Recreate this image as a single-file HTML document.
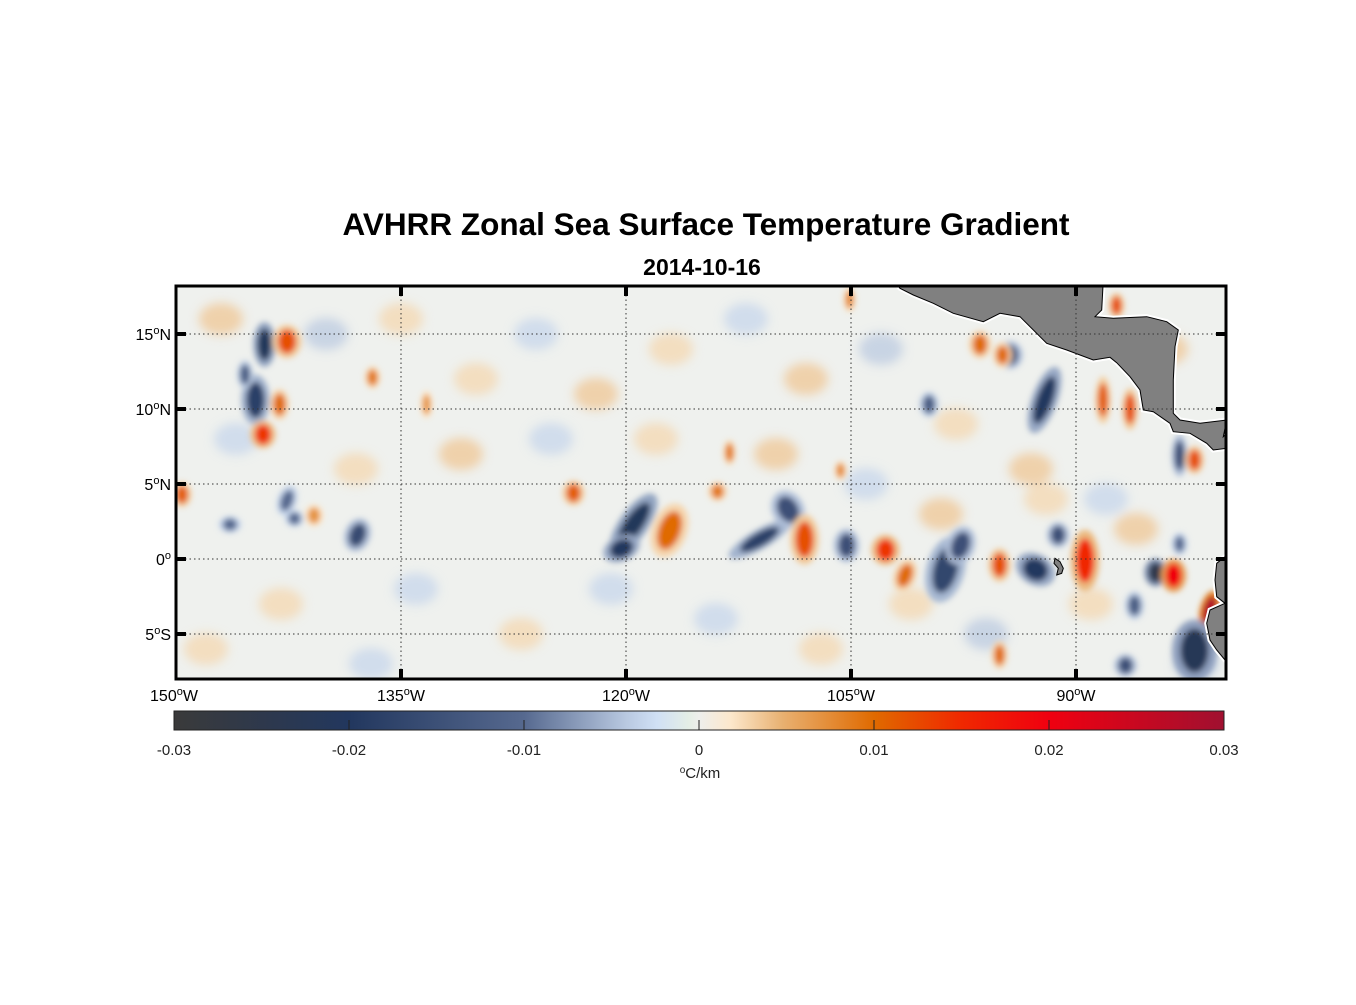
<!DOCTYPE html>
<html><head><meta charset="utf-8"><style>
body{margin:0;background:#fff;}
svg text{font-family:"Liberation Sans",Arial,sans-serif;}
</style></head><body>
<svg id="chart" width="1356" height="1000" xmlns="http://www.w3.org/2000/svg">
<defs>
<filter id="blur" x="-50%" y="-50%" width="200%" height="200%"><feGaussianBlur stdDeviation="3"/></filter>
<filter id="blur2" x="-50%" y="-50%" width="200%" height="200%"><feGaussianBlur stdDeviation="5"/></filter>
<clipPath id="mapclip"><rect x="176" y="286" width="1050" height="393"/></clipPath>
<linearGradient id="cbgrad" x1="0" x2="1" y1="0" y2="0">
<stop offset="0" stop-color="#3a3a3a"/>
<stop offset="0.1667" stop-color="#22375e"/>
<stop offset="0.3333" stop-color="#56698f"/>
<stop offset="0.43" stop-color="#b8c8e0"/>
<stop offset="0.46" stop-color="#d0e0f5"/>
<stop offset="0.49" stop-color="#e4eee6"/>
<stop offset="0.5" stop-color="#eeeeec"/>
<stop offset="0.53" stop-color="#fce8cc"/>
<stop offset="0.58" stop-color="#e8b070"/>
<stop offset="0.6667" stop-color="#e06a00"/>
<stop offset="0.75" stop-color="#f02800"/>
<stop offset="0.8333" stop-color="#f00010"/>
<stop offset="1" stop-color="#a01030"/>
</linearGradient>
</defs>
<text x="706" y="235" text-anchor="middle" font-size="31.5" font-weight="bold">AVHRR Zonal Sea Surface Temperature Gradient</text>
<text x="702" y="275" text-anchor="middle" font-size="23" font-weight="bold">2014-10-16</text>
<g id="map" clip-path="url(#mapclip)">
<rect x="176" y="286" width="1050" height="393" fill="#eff1ee"/>
<g id="faint" filter="url(#blur2)"></g>
<g id="blobs" filter="url(#blur)"></g>
<g id="land"></g>
</g>
<g id="grid"></g>
<rect x="176" y="286" width="1050" height="393" fill="none" stroke="#000" stroke-width="3"/>
<g id="axes"></g>
<g id="colorbar"></g>
</svg>
<script>
// data: lon (deg E), lat, value (°C/km)
const blobLon=[-144.1,-142.6,-144.7,-143.1,-144.2,-145.4,-149.6,-146.4,-142.6,-137.9,-136.9,-140.8,-142.1,-133.3,
-123.5,-119.5,-120.3,-117.1,-113.9,-111.1,-109.2,-108.1,-105.3,-113.1,-105.7,-105.1,
-102.7,-101.4,-98.7,-97.7,-95.1,-92.7,-91.2,-89.4,-92.1,-94.4,-96.4,-94.9,-88.2,-86.4,-87.3,-99.8,-83.1,-82.1,-84.7,-83.5,-81.1,-82.1,-86.1,-83.1,-95.1,-86.7];
const blobLat=[14.3,14.5,10.6,10.3,8.3,12.3,4.3,2.3,3.9,1.6,12.1,2.9,2.7,10.3,
4.4,2.3,0.7,1.9,4.5,1.3,3.3,1.3,0.9,7.1,5.9,17.3,
0.6,-1.1,-0.7,0.9,-0.4,-0.7,1.6,-0.1,10.6,13.6,14.3,13.6,10.6,10.0,16.9,10.3,6.9,6.6,-0.9,-1.1,-3.4,-6.1,-3.1,1.0,-6.4,-7.1];
const blobVal=[-0.021,0.012,-0.018,0.010,0.014,-0.012,0.011,-0.010,-0.010,-0.016,0.009,0.007,-0.010,0.007,
0.011,-0.021,-0.020,0.010,0.009,-0.018,-0.015,0.012,-0.015,0.009,0.008,0.008,
0.014,0.010,-0.017,-0.015,0.012,-0.020,-0.015,0.015,-0.020,-0.015,0.010,0.010,0.011,0.012,0.012,-0.012,-0.015,0.012,-0.025,0.020,0.028,-0.022,-0.012,-0.010,0.010,-0.015];
// faint background texture features
const faintLon=[-147,-140,-135,-130,-126,-122,-117,-112,-108,-103,-98,-93,-88,-84,-146,-138,-131,-125,-118,-110,-104,-99,-92,-86,-143,-134,-127,-114,-107,-96,-89,-82,-148,-137,-121,-101];
const faintLat=[16,15,16,12,15,11,14,16,12,14,9,6,4,14,8,6,7,8,8,7,5,3,4,2,-3,-2,-5,-4,-6,-5,-3,-7,-6,-7,-2,-3];
const faintVal=[0.004,-0.004,0.003,0.003,-0.003,0.004,0.003,-0.003,0.004,-0.004,0.003,0.004,-0.003,0.004,-0.003,0.003,0.004,-0.003,0.003,0.004,-0.003,0.004,0.003,0.004,0.003,-0.003,0.003,-0.003,0.003,-0.004,0.003,-0.004,0.003,-0.003,-0.003,0.003];
// blob extents (shape only, px)
const rx=[7,9,9,6,8,5,6,7,6,8,5,6,6,4, 7,9,12,11,6,22,10,9,8,4,4,4, 9,7,12,9,7,13,7,9,8,8,7,6,5,5,5,6,5,6,7,8,6,14,6,5,5,7];
const ry=[16,12,18,11,10,10,9,6,11,12,8,8,6,10, 9,26,9,20,7,7,14,18,12,9,7,9, 11,12,24,14,12,11,9,22,25,10,10,9,17,15,9,9,15,10,10,12,14,22,10,8,10,8];
const rot=[0,0,0,0,0,0,0,0,20,20,0,0,0,0, 0,35,-25,20,0,-30,-30,0,0,0,0,0, 0,20,15,20,0,30,0,0,20,0,0,0,0,0,0,0,0,0,0,0,15,0,0,0,0,0];

const X=lon=>176+(lon+150)*15, Y=lat=>559-lat*15;
const stops=[[-0.03,[58,58,58]],[-0.02,[34,55,94]],[-0.01,[86,105,143]],[-0.004,[184,200,224]],[-0.002,[208,224,245]],[0,[238,238,236]],[0.002,[252,232,204]],[0.005,[232,176,112]],[0.01,[224,106,0]],[0.015,[240,40,0]],[0.02,[240,0,16]],[0.03,[160,16,48]]];
function cmap(v){v=Math.max(-0.03,Math.min(0.03,v));for(let i=0;i<stops.length-1;i++){const[a,ca]=stops[i],[b,cb]=stops[i+1];if(v<=b){const t=(v-a)/(b-a);return 'rgb('+ca.map((c,k)=>Math.round(c+(cb[k]-c)*t)).join(',')+')';}}return 'rgb(160,16,48)';}
const NS='http://www.w3.org/2000/svg';
function mk(tag,attrs,parent){const e=document.createElementNS(NS,tag);for(const k in attrs)e.setAttribute(k,attrs[k]);parent.appendChild(e);return e;}
const gf=document.getElementById('faint');
for(let i=0;i<faintLon.length;i++){
 const f=mk('ellipse',{cx:X(faintLon[i]),cy:Y(faintLat[i]),rx:22,ry:16,fill:cmap(faintVal[i]),opacity:0.7},gf);
 
 
}
const gb=document.getElementById('blobs');
for(let i=0;i<blobLon.length;i++){
 const cx=X(blobLon[i]),cy=Y(blobLat[i]);
 const h=mk('ellipse',{cx:cx,cy:cy,rx:rx[i]*1.6,ry:ry[i]*1.4,fill:cmap(blobVal[i]*0.3),transform:'rotate('+rot[i]+' '+cx+' '+cy+')'},gb);
 
 
 const e=mk('ellipse',{cx:cx,cy:cy,rx:rx[i],ry:ry[i],fill:cmap(blobVal[i]),transform:'rotate('+rot[i]+' '+cx+' '+cy+')'},gb);
 
 
}
function zp(pts){return pts.map(p=>(880+p[0]/3).toFixed(1)+','+(280+p[1]/3).toFixed(1)).join(' ');}
const land=document.getElementById('land');
const ca=[[40,0],[60,25],[100,45],[160,70],[220,100],[310,125],[360,100],[420,110],[500,190],[560,210],[600,225],[640,240],[690,232],[710,248],[750,290],[780,330],[790,390],[820,395],[870,430],[880,455],[930,460],[980,490],[1000,510],[1040,505],[1040,460],[1030,470],[1040,420],[960,430],[900,420],[880,400],[880,300],[885,200],[895,150],[860,125],[800,110],[700,115],[645,110],[665,90],[670,0]];
const p1=mk('polygon',{points:zp(ca),fill:'#808080',stroke:'#fff','stroke-width':5},land);


mk('polygon',{points:zp(ca),fill:'#808080',stroke:'#000','stroke-width':1},land);
const sa=[[1050,830],[1035,830],[1010,850],[1005,900],[1010,950],[1035,970],[990,990],[980,1030],[990,1080],[1010,1110],[1035,1140],[1050,1140]];
const p2=mk('polygon',{points:zp(sa),fill:'#808080',stroke:'#fff','stroke-width':5},land);


mk('polygon',{points:zp(sa),fill:'#808080',stroke:'#000','stroke-width':1},land);
const g3=mk('polygon',{points:zp([[525,835],[540,845],[550,865],[545,880],[530,885],[535,865],[522,850]]),fill:'#808080',stroke:'#000','stroke-width':1},land);


const lonTicks=[-150,-135,-120,-105,-90];
const lonLabels=['150','135','120','105','90'];
const latTicks=[15,10,5,0,-5];
const latLabels=[['15','N'],['10','N'],['5','N'],['0',''],['5','S']];
const grid=document.getElementById('grid'),axes=document.getElementById('axes');
lonTicks.forEach((l,i)=>{const x=X(l);
 if(i>0){const g=mk('line',{x1:x,x2:x,y1:286,y2:679,stroke:'#333','stroke-width':1,'stroke-dasharray':'1.5,3'},grid);
 
 mk('line',{x1:x,x2:x,y1:286,y2:296,stroke:'#000','stroke-width':4},axes);
 mk('line',{x1:x,x2:x,y1:669,y2:679,stroke:'#000','stroke-width':4},axes);}
 const t=mk('text',{x:x-(i==0?2:0),y:701,'text-anchor':'middle','font-size':16},axes);
 
 t.innerHTML=lonLabels[i]+'<tspan dy="-6" font-size="11">o</tspan><tspan dy="6">W</tspan>';
});
latTicks.forEach((l,i)=>{const y=Y(l);
 const g=mk('line',{x1:176,x2:1226,y1:y,y2:y,stroke:'#333','stroke-width':1,'stroke-dasharray':'1.5,3'},grid);
 
 mk('line',{x1:176,x2:186,y1:y,y2:y,stroke:'#000','stroke-width':4},axes);
 mk('line',{x1:1216,x2:1226,y1:y,y2:y,stroke:'#000','stroke-width':4},axes);
 const t=mk('text',{x:171,y:y+6,'text-anchor':'end','font-size':16},axes);
 
 t.innerHTML=latLabels[i][0]+'<tspan dy="-6" font-size="11">o</tspan><tspan dy="6">'+latLabels[i][1]+'</tspan>';
});
const cbTicks=[-0.03,-0.02,-0.01,0,0.01,0.02,0.03];
const cbLabels=['-0.03','-0.02','-0.01','0','0.01','0.02','0.03'];
const cb=document.getElementById('colorbar');
const CX=v=>174+(v+0.03)/0.06*1050;
const r=mk('rect',{x:174,y:711,width:1050,height:19,fill:'url(#cbgrad)',stroke:'#222','stroke-width':1},cb);

cbTicks.forEach((v,i)=>{const x=CX(v);
 if(i>0&&i<cbTicks.length-1)mk('line',{x1:x,x2:x,y1:720,y2:730,stroke:'#222','stroke-width':1},cb);
 const t=mk('text',{x:x,y:755,'text-anchor':'middle','font-size':15,fill:'#222'},cb);
 
 t.textContent=cbLabels[i];
});
const u=mk('text',{x:700,y:778,'text-anchor':'middle','font-size':15,fill:'#222'},cb);

u.innerHTML='<tspan dy="-5" font-size="10">o</tspan><tspan dy="5">C/km</tspan>';
</script>
</body></html>
